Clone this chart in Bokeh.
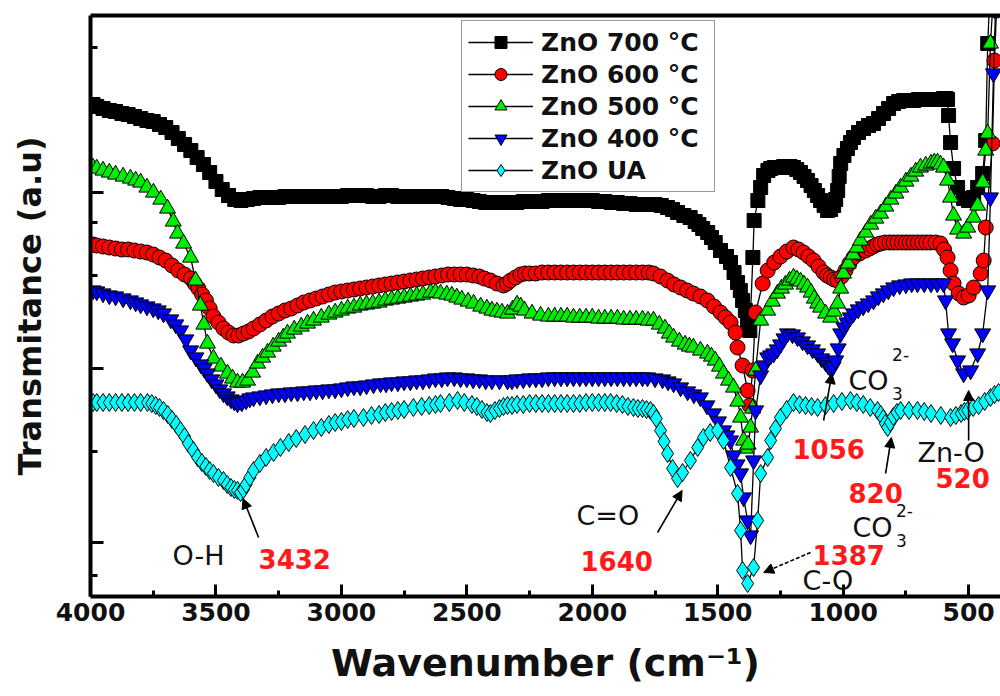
from bokeh.plotting import figure
from bokeh.models import (Range1d, LinearAxis, SingleIntervalTicker, FixedTicker, Legend,
                          LegendItem, Label, Arrow, NormalHead, CustomJSTickFormatter)
from bokeh.embed import file_html
from bokeh.resources import INLINE

# ---------------- data: (wavenumber cm^-1, transmittance a.u.) ----------------
pts_700 = [(3990, 492), (3975, 490), (3950, 488), (3925, 486), (3900, 485), (3875, 483), (3850, 482),
           (3825, 480), (3800, 478), (3775, 476), (3750, 475), (3725, 472), (3700, 469), (3675, 464),
           (3650, 458), (3625, 452), (3600, 446), (3575, 439), (3550, 432), (3525, 424), (3500, 415),
           (3475, 407), (3450, 401), (3425, 397), (3400, 396), (3375, 397), (3350, 398), (3325, 399),
           (3300, 399), (3275, 399), (3250, 399), (3225, 400), (3200, 400), (3175, 400), (3150, 400),
           (3125, 400), (3100, 400), (3075, 400), (3050, 400), (3025, 400), (3000, 400), (2975, 401),
           (2950, 401), (2925, 401), (2900, 401), (2875, 400), (2850, 400), (2825, 401), (2800, 401),
           (2775, 400), (2750, 400), (2725, 400), (2700, 400), (2675, 400), (2650, 400), (2625, 400),
           (2600, 400), (2575, 399), (2550, 398), (2525, 397), (2500, 397), (2475, 396), (2450, 395),
           (2425, 394), (2400, 394), (2375, 394), (2350, 394), (2325, 394), (2300, 394), (2275, 395),
           (2250, 395), (2225, 395), (2200, 395), (2175, 396), (2150, 396), (2125, 396), (2100, 396),
           (2075, 396), (2050, 396), (2025, 396), (2000, 396), (1975, 395), (1950, 395), (1925, 394),
           (1900, 394), (1875, 393), (1850, 393), (1825, 392), (1800, 392), (1775, 392), (1750, 392),
           (1725, 391), (1700, 389), (1680, 387), (1660, 384), (1635, 381), (1610, 379), (1590, 375),
           (1575, 372), (1560, 368), (1540, 364), (1525, 359), (1510, 354), (1489, 346), (1465, 340),
           (1449, 334), (1435, 324), (1421, 314), (1410, 306), (1401, 296), (1390, 286), (1381, 273),
           (1372, 266), (1360, 339), (1355, 376), (1340, 396), (1329, 409), (1317, 421), (1300, 426),
           (1289, 428), (1275, 429), (1262, 429), (1250, 429), (1237, 430), (1225, 430), (1212, 430),
           (1198, 429), (1185, 427), (1170, 424), (1156, 420), (1142, 416), (1128, 411), (1115, 406),
           (1102, 401), (1090, 396), (1076, 391), (1062, 386), (1050, 387), (1038, 391), (1030, 397),
           (1022, 406), (1016, 420), (1010, 433), (997, 441), (983, 448), (971, 454), (959, 459),
           (939, 464), (919, 468), (899, 471), (879, 473), (859, 478), (839, 483), (819, 488),
           (799, 493), (779, 495), (759, 496), (739, 496), (719, 496), (700, 497), (680, 497),
           (660, 497), (640, 497), (620, 497), (600, 498), (590, 498), (584, 497), (580, 481),
           (572, 454), (560, 428), (544, 409), (520, 398), (500, 396), (480, 399), (464, 409),
           (444, 423), (432, 456), (424, 553), (417, 591)]

pts_600 = [(3990, 352), (3975, 351), (3950, 350), (3925, 349), (3900, 348), (3875, 347), (3850, 347),
           (3825, 346), (3800, 345), (3775, 344), (3750, 342), (3725, 339), (3700, 336), (3675, 331),
           (3650, 326), (3625, 322), (3600, 318), (3585, 313), (3570, 308), (3555, 302), (3540, 296),
           (3525, 288), (3510, 280), (3490, 274), (3470, 268), (3450, 264), (3430, 261), (3410, 261),
           (3390, 263), (3370, 265), (3350, 268), (3325, 272), (3300, 276), (3275, 280), (3250, 283),
           (3225, 286), (3200, 288), (3175, 291), (3150, 294), (3125, 296), (3100, 298), (3075, 300),
           (3050, 302), (3025, 304), (3000, 305), (2975, 306), (2950, 307), (2925, 308), (2900, 309),
           (2875, 310), (2850, 311), (2825, 312), (2800, 313), (2775, 314), (2750, 315), (2725, 316),
           (2700, 317), (2675, 318), (2650, 319), (2625, 320), (2600, 321), (2575, 322), (2550, 322),
           (2525, 322), (2500, 322), (2475, 321), (2450, 320), (2430, 318), (2406, 316), (2380, 313),
           (2354, 311), (2340, 313), (2326, 316), (2306, 319), (2286, 322), (2268, 323), (2250, 323),
           (2225, 323), (2200, 324), (2175, 324), (2150, 324), (2125, 324), (2100, 324), (2075, 324),
           (2050, 324), (2025, 324), (2000, 324), (1975, 324), (1950, 324), (1925, 324), (1900, 324),
           (1875, 324), (1850, 324), (1825, 324), (1800, 324), (1775, 324), (1756, 323), (1728, 320),
           (1700, 316), (1674, 312), (1648, 309), (1622, 306), (1597, 303), (1569, 300), (1541, 296),
           (1515, 290), (1489, 284), (1469, 279), (1449, 274), (1429, 264), (1421, 249), (1401, 231),
           (1381, 206), (1373, 191), (1361, 226), (1349, 284), (1321, 313), (1301, 326), (1275, 334),
           (1250, 340), (1225, 345), (1198, 349), (1178, 347), (1158, 344), (1138, 340), (1118, 336),
           (1098, 330), (1078, 324), (1064, 321), (1050, 319), (1036, 317), (1022, 316), (1006, 320),
           (991, 326), (975, 333), (959, 339), (935, 343), (911, 346), (895, 348), (880, 350),
           (865, 352), (851, 353), (833, 354), (815, 354), (799, 354), (783, 354), (766, 354),
           (750, 354), (735, 354), (719, 354), (702, 354), (685, 354), (668, 354), (652, 354),
           (632, 354), (612, 353), (598, 347), (584, 339), (572, 326), (560, 313), (540, 303),
           (520, 299), (500, 301), (480, 309), (452, 323), (440, 336), (432, 369), (405, 453),
           (397, 536), (389, 586)]

pts_500 = [(3990, 429), (3975, 428), (3950, 426), (3925, 424), (3900, 422), (3870, 420), (3841, 418),
           (3820, 416), (3800, 414), (3775, 409), (3749, 404), (3720, 397), (3693, 388), (3670, 375),
           (3653, 363), (3629, 353), (3601, 339), (3581, 316), (3562, 291), (3548, 272), (3534, 253),
           (3510, 238), (3480, 230), (3454, 223), (3434, 218), (3414, 214), (3394, 214), (3374, 216),
           (3354, 224), (3334, 233), (3314, 239), (3294, 244), (3272, 250), (3250, 255), (3232, 259),
           (3215, 263), (3188, 267), (3160, 270), (3135, 273), (3111, 276), (3080, 279), (3050, 282),
           (3025, 284), (3000, 286), (2975, 288), (2950, 289), (2925, 291), (2900, 292), (2875, 293),
           (2850, 294), (2825, 296), (2800, 297), (2775, 298), (2750, 299), (2725, 300), (2700, 301),
           (2675, 302), (2645, 304), (2625, 304), (2605, 303), (2580, 302), (2560, 301), (2540, 299),
           (2520, 297), (2495, 295), (2473, 293), (2445, 290), (2420, 288), (2400, 286), (2380, 285),
           (2360, 284), (2338, 283), (2318, 287), (2300, 292), (2285, 290), (2270, 286), (2240, 283),
           (2206, 281), (2175, 280), (2150, 280), (2125, 280), (2100, 280), (2075, 279), (2050, 279),
           (2025, 279), (2000, 279), (1975, 278), (1950, 278), (1925, 278), (1900, 278), (1875, 277),
           (1850, 277), (1825, 277), (1800, 277), (1778, 276), (1756, 276), (1733, 272), (1710, 268),
           (1693, 263), (1676, 259), (1653, 255), (1630, 252), (1613, 250), (1597, 249), (1569, 246),
           (1541, 243), (1525, 240), (1510, 236), (1493, 230), (1477, 223), (1457, 216), (1437, 209),
           (1420, 195), (1409, 179), (1397, 156), (1389, 148), (1379, 152), (1369, 169), (1361, 188),
           (1349, 226), (1329, 276), (1301, 286), (1282, 295), (1262, 303), (1246, 308), (1230, 312),
           (1214, 316), (1198, 319), (1184, 317), (1170, 315), (1156, 312), (1142, 309), (1128, 304),
           (1115, 298), (1102, 293), (1090, 289), (1070, 283), (1050, 279), (1036, 285), (1022, 293),
           (1010, 308), (999, 323), (980, 333), (960, 342), (945, 349), (931, 356), (910, 364),
           (890, 372), (870, 378), (851, 383), (830, 390), (810, 397), (790, 403), (771, 409),
           (750, 415), (730, 420), (711, 425), (692, 429), (671, 431), (650, 433), (637, 434),
           (624, 434), (612, 432), (600, 429), (584, 416), (572, 399), (560, 381), (544, 367),
           (520, 363), (504, 369), (480, 379), (464, 391), (444, 414), (432, 446), (424, 463),
           (413, 553), (405, 586)]

pts_400 = [(3990, 306), (3975, 305), (3950, 303), (3925, 301), (3900, 300), (3870, 298), (3841, 296),
           (3820, 294), (3800, 292), (3775, 290), (3750, 288), (3730, 286), (3709, 283), (3680, 277),
           (3660, 272), (3641, 266), (3620, 257), (3601, 246), (3580, 239), (3560, 232), (3547, 228),
           (3534, 223), (3517, 217), (3500, 212), (3485, 207), (3470, 203), (3455, 200), (3440, 197),
           (3427, 195), (3414, 193), (3397, 194), (3380, 196), (3365, 198), (3350, 199), (3325, 200),
           (3300, 201), (3275, 202), (3250, 203), (3225, 203), (3200, 204), (3175, 204), (3150, 205),
           (3125, 205), (3100, 206), (3075, 206), (3050, 207), (3025, 207), (3000, 208), (2975, 209),
           (2950, 210), (2925, 210), (2900, 211), (2872, 212), (2844, 213), (2822, 213), (2800, 214),
           (2775, 214), (2750, 215), (2725, 215), (2700, 216), (2675, 216), (2650, 217), (2625, 218),
           (2600, 218), (2577, 219), (2550, 219), (2525, 218), (2500, 218), (2475, 217), (2450, 217),
           (2425, 216), (2400, 216), (2370, 216), (2338, 216), (2320, 216), (2300, 217), (2275, 217),
           (2250, 218), (2225, 218), (2200, 218), (2175, 219), (2150, 219), (2125, 219), (2100, 219),
           (2075, 219), (2050, 219), (2025, 219), (2000, 219), (1975, 219), (1950, 219), (1925, 219),
           (1900, 219), (1875, 219), (1850, 219), (1825, 219), (1800, 219), (1780, 219), (1750, 218),
           (1720, 217), (1698, 215), (1676, 213), (1648, 209), (1620, 205), (1595, 202), (1569, 199),
           (1543, 191), (1517, 183), (1497, 175), (1477, 166), (1463, 161), (1449, 156), (1437, 141),
           (1423, 132), (1409, 123), (1397, 99), (1381, 76), (1369, 61), (1357, 136), (1349, 186),
           (1329, 221), (1315, 231), (1301, 239), (1289, 241), (1277, 243), (1263, 247), (1250, 252),
           (1236, 258), (1222, 263), (1202, 262), (1182, 259), (1162, 255), (1142, 251), (1122, 247),
           (1102, 243), (1086, 238), (1070, 234), (1060, 231), (1050, 228), (1040, 230), (1030, 236),
           (1020, 248), (1010, 263), (997, 269), (985, 274), (972, 279), (959, 283), (940, 287),
           (920, 290), (900, 293), (879, 296), (860, 300), (840, 303), (820, 306), (799, 309),
           (775, 311), (750, 312), (727, 313), (704, 313), (677, 313), (650, 313), (625, 313),
           (600, 313), (592, 296), (580, 263), (564, 253), (544, 236), (520, 223), (492, 226),
           (464, 243), (444, 263), (424, 306), (413, 399), (401, 523), (393, 586)]

pts_ua = [(3990, 194), (3975, 194), (3950, 194), (3925, 194), (3900, 194), (3875, 194), (3850, 194),
          (3825, 194), (3800, 194), (3773, 194), (3756, 193), (3740, 191), (3725, 189), (3709, 186),
          (3692, 182), (3675, 177), (3658, 172), (3641, 166), (3625, 160), (3610, 153), (3590, 146),
          (3573, 139), (3556, 134), (3540, 130), (3525, 126), (3510, 123), (3490, 119), (3470, 116),
          (3455, 112), (3440, 109), (3427, 107), (3414, 106), (3402, 104), (3390, 107), (3380, 112),
          (3365, 119), (3350, 126), (3325, 133), (3300, 139), (3270, 144), (3243, 149), (3210, 154),
          (3180, 158), (3145, 162), (3111, 166), (3080, 169), (3050, 172), (3025, 174), (3000, 175),
          (2975, 177), (2950, 178), (2912, 179), (2880, 181), (2850, 182), (2825, 184), (2800, 185),
          (2775, 186), (2750, 187), (2713, 189), (2680, 190), (2650, 191), (2625, 192), (2605, 193),
          (2570, 194), (2537, 196), (2510, 194), (2480, 192), (2460, 190), (2440, 187), (2420, 184),
          (2406, 183), (2388, 186), (2370, 188), (2354, 190), (2338, 191), (2320, 191), (2300, 192),
          (2275, 192), (2250, 193), (2225, 193), (2200, 193), (2175, 193), (2150, 193), (2125, 193),
          (2100, 193), (2075, 193), (2050, 193), (2025, 194), (2000, 194), (1975, 194), (1950, 194),
          (1927, 194), (1903, 193), (1880, 192), (1858, 190), (1836, 189), (1818, 188), (1800, 188),
          (1784, 187), (1768, 186), (1756, 183), (1745, 178), (1728, 166), (1714, 155), (1700, 143),
          (1680, 128), (1660, 118), (1640, 124), (1609, 136), (1580, 149), (1557, 159), (1530, 164),
          (1501, 166), (1477, 156), (1449, 129), (1421, 103), (1409, 66), (1401, 26), (1381, 13),
          (1357, 29), (1341, 76), (1329, 123), (1301, 139), (1289, 156), (1270, 168), (1250, 179),
          (1225, 187), (1198, 194), (1174, 192), (1150, 191), (1126, 190), (1102, 189), (1070, 191),
          (1038, 193), (1005, 195), (971, 196), (946, 194), (920, 192), (892, 189), (863, 186),
          (850, 182), (840, 178), (832, 173), (823, 169), (812, 174), (800, 180), (786, 184),
          (771, 186), (738, 186), (704, 186), (677, 185), (650, 183), (611, 181), (572, 179),
          (551, 181), (530, 183), (517, 185), (504, 186), (482, 189), (460, 191), (436, 195),
          (413, 199), (397, 202), (381, 204)]

labels = ["ZnO 700 °C", "ZnO 600 °C", "ZnO 500 °C", "ZnO 400 °C", "ZnO UA"]
colors = ["#000000", "#ff0000", "#00ee00", "#0000ff", "#00ffff"]
markers = ["square", "circle", "triangle", "inverted_triangle", "diamond"]
sizes = [14, 15, 16, 16, 18]

x_tick_interval = 500
y_major = [54, 228, 404]
y_minor = [21, 145, 321, 374, 549]

FONT = "DejaVu Sans"

p = figure(width=1000, height=696, output_backend="svg", toolbar_location=None,
           x_range=Range1d(4000, 373), y_range=Range1d(0, 581),
           min_border_left=90, min_border_right=0, min_border_top=15, min_border_bottom=100,
           background_fill_color="white", border_fill_color="white")
p.outline_line_color = None
p.grid.visible = False

items = []
for pts, lab_, col, mk, sz in zip([pts_700, pts_600, pts_500, pts_400, pts_ua],
                                  labels, colors, markers, sizes):
    xs = [a for a, b in pts]
    ys = [b for a, b in pts]
    ln = p.line(xs, ys, line_color="black", line_width=1.3)
    sc = p.scatter(xs, ys, marker=mk, size=sz, fill_color=col, line_color="black", line_width=1)
    items.append(LegendItem(label=lab_, renderers=[ln, sc]))

# x axis
xa = p.xaxis[0]
xa.ticker = SingleIntervalTicker(interval=x_tick_interval, num_minor_ticks=2)
xa.major_tick_in = 12
xa.major_tick_out = 0
xa.minor_tick_in = 6
xa.minor_tick_out = 0
xa.axis_line_width = 4
xa.major_tick_line_width = 3
xa.minor_tick_line_width = 3
xa.major_label_text_font = FONT
xa.major_label_text_font_style = "bold"
xa.major_label_text_font_size = "25px"
xa.major_label_text_color = "#111111"
xa.major_label_standoff = 6
xa.axis_label = "Wavenumber (cm\u207b\u00b9)"
xa.axis_label_text_font = FONT
xa.axis_label_text_font_style = "bold"
xa.axis_label_text_font_size = "38px"
xa.axis_label_text_color = "#111111"
xa.axis_label_standoff = 17

# y axis
ya = p.yaxis[0]
ya.ticker = FixedTicker(ticks=y_major, minor_ticks=y_minor)
ya.formatter = CustomJSTickFormatter(code="return ''")
ya.major_tick_in = 13
ya.major_tick_out = 0
ya.minor_tick_in = 7
ya.minor_tick_out = 0
ya.major_label_standoff = 0
ya.axis_line_width = 4
ya.major_tick_line_width = 3
ya.minor_tick_line_width = 3
ya.axis_label = "Transmitance (a.u)"
ya.axis_label_text_font = FONT
ya.axis_label_text_font_style = "bold"
ya.axis_label_text_font_size = "32px"
ya.axis_label_text_color = "#111111"
ya.axis_label_standoff = 42

# top border drawn as an axis without ticks
top = LinearAxis(ticker=FixedTicker(ticks=[]), formatter=CustomJSTickFormatter(code="return ''"),
                 major_tick_in=0, major_tick_out=0, minor_tick_in=0, minor_tick_out=0,
                 axis_line_width=4, major_label_standoff=0)
p.add_layout(top, "above")

legend = Legend(items=items, location=(371, 404), orientation="vertical",
                padding=6, spacing=2, margin=0,
                glyph_width=65, glyph_height=30, label_height=30, label_width=167,
                label_standoff=8, label_text_font=FONT, label_text_font_style="bold",
                label_text_font_size="25px", label_text_color="#111111",
                border_line_color="#333333", border_line_width=1.5,
                background_fill_color="white", background_fill_alpha=1)
p.add_layout(legend)


def lab(x, y, text, color="#111111", size="26px", style="normal"):
    p.add_layout(Label(x=x, y=y, text=text, text_color=color, text_font=FONT,
                       text_font_size=size, text_font_style=style,
                       text_baseline="alphabetic", text_align="left"))


def arr(x0, y0, x1, y1, dash="solid"):
    p.add_layout(Arrow(end=NormalHead(size=10, fill_color="black", line_color="black"),
                       x_start=x0, y_start=y0, x_end=x1, y_end=y1,
                       line_color="black", line_width=1.6, line_dash=dash))


RED = "#ff1a1a"
lab(3673, 41, "O-H", size="27px")
lab(3330, 38, "3432", color=RED, size="26px", style="bold")
arr(3330, 59, 3392, 98)

lab(2063, 81, "C=O", size="27px")
lab(2047, 36, "1640", color=RED, size="26px", style="bold")
arr(1740, 64, 1642, 106)

lab(979, 216, "CO", size="27px")
lab(805, 242, "2-", size="17px")
lab(805, 203, "3", size="17px")
lab(1202, 148, "1056", color=RED, size="26px", style="bold")
arr(1078, 176, 1045, 223)

lab(704, 144, "Zn-O", size="27px")
lab(632, 119, "520", color=RED, size="26px", style="bold")
arr(500, 156, 500, 206)

lab(979, 104, "820", color=RED, size="26px", style="bold")
arr(831, 123, 808, 159)
lab(963, 69, "CO", size="27px")
lab(790, 86, "2-", size="17px")
lab(790, 56, "3", size="17px")

lab(1122, 42, "1387", color=RED, size="26px", style="bold")
lab(1162, 16, "C-O", size="27px")
arr(1130, 44, 1317, 24, dash="4 2")

open("out.html", "w").write(file_html(p, INLINE))
